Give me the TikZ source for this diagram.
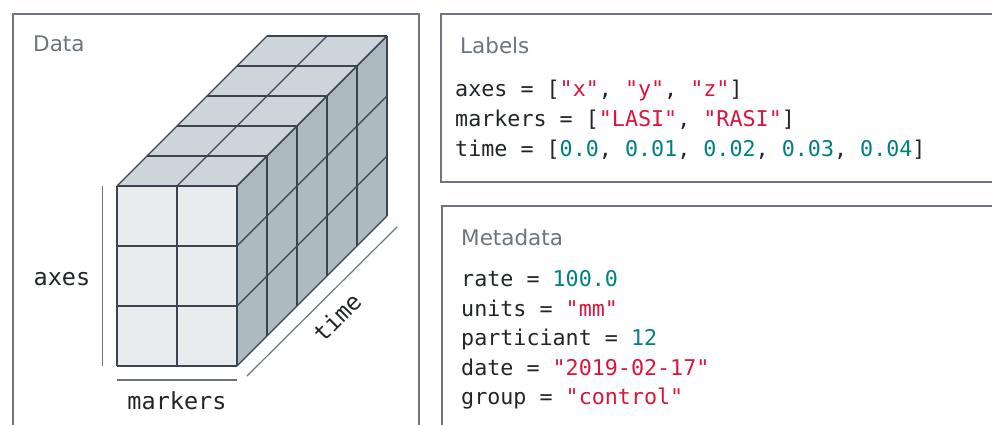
\documentclass[tikz,border=0pt]{standalone}
\usepackage{fontspec}
\setmainfont{DejaVu Sans}
\newfontfamily\codefont{DejaVu Sans Mono}

\definecolor{frame}{HTML}{6E7580}
\definecolor{titlegray}{HTML}{6C757D}
\definecolor{codeink}{HTML}{212529}
\definecolor{strred}{HTML}{DC143C}
\definecolor{numteal}{HTML}{00807F}
\definecolor{edgeink}{HTML}{3D4451}
\definecolor{facefront}{HTML}{E9ECEF}
\definecolor{facetop}{HTML}{CED5DA}
\definecolor{faceside}{HTML}{ADBAC0}

\newcommand\strv[1]{\textcolor{strred}{#1}}
\newcommand\numv[1]{\textcolor{numteal}{#1}}

\tikzset{
  panel/.style={draw=frame, line width=1.4pt},
  paneltitle/.style={anchor=base west, inner sep=0pt, text=titlegray,
    font=\fontsize{21.5}{26}\selectfont},
  codeline/.style={anchor=base west, inner sep=0pt, text=codeink,
    font=\codefont\fontsize{21.7}{26}\selectfont},
  dimlabel/.style={anchor=base, inner sep=0pt, text=codeink,
    font=\codefont\fontsize{23.5}{28}\selectfont},
  dimline/.style={draw=titlegray, line width=1.2pt},
  cubeedge/.style={draw=edgeink, line width=1.2pt, line join=round}
}

\begin{document}
\begin{tikzpicture}[x=1pt, y=-1pt]
\useasboundingbox (0,0) rectangle (992,425);
\clip (0,0) rectangle (992,425);

% panels (running past the lower and right edges)
\draw[panel] (13,440) -- (13,14) -- (419,14) -- (419,440);
\draw[panel] (1010,14) -- (441,14) -- (441,182) -- (1010,182);
\draw[panel] (1010,206) -- (442,206) -- (442,440);

% panel titles
\node[paneltitle] (tdata) at (33,51.5) {Data};
\node[paneltitle] (tlabels) at (460,54) {Labels};
\node[paneltitle] (tmeta) at (461,245) {Metadata};

% data cube: 2 markers x 3 axes x 5 time samples
% front face
\fill[facefront] (117,186) rectangle (237,366);
% top face
\fill[facetop] (117,186) -- (237,186) -- (387,36) -- (267,36) -- cycle;
% side face
\fill[faceside] (237,186) -- (387,36) -- (387,216) -- (237,366) -- cycle;
% front grid
\foreach \i in {0,1,2} \draw[cubeedge] (117+60*\i,186) -- (117+60*\i,366);
\foreach \j in {0,1,2,3} \draw[cubeedge] (117,186+60*\j) -- (237,186+60*\j);
% top grid
\foreach \k in {0,...,5}
  \draw[cubeedge] (117+30*\k,186-30*\k) -- (237+30*\k,186-30*\k);
\foreach \i in {0,1,2}
  \draw[cubeedge] (117+60*\i,186) -- (267+60*\i,36);
% side grid
\foreach \k in {0,...,5}
  \draw[cubeedge] (237+30*\k,186-30*\k) -- (237+30*\k,366-30*\k);
\foreach \j in {0,1,2,3}
  \draw[cubeedge] (237,186+60*\j) -- (387,36+60*\j);

% dimension guides
\coordinate (axtop) at (102.5,186);
\coordinate (axbot) at (102.5,366);
\coordinate (mkl) at (117,380);
\coordinate (mkr) at (237,380);
\coordinate (tma) at (247,376);
\coordinate (tmb) at (397,227);
\draw[dimline] (axtop) -- (axbot);
\draw[dimline] (mkl) -- (mkr);
\draw[dimline] (tma) -- (tmb);
\node[dimlabel] (laxes) at (62,285) {axes};
\node[dimlabel] (lmarkers) at (177,409) {markers};
\node[dimlabel, anchor=center, rotate=45] (ltime) at (337,317) {time};

% labels panel
\node[codeline] (lab1) at (455,97) {axes = [\strv{"x"}, \strv{"y"}, \strv{"z"}]};
\node[codeline] (lab2) at (455,126.5) {markers = [\strv{"LASI"}, \strv{"RASI"}]};
\node[codeline] (lab3) at (455,156) {time = [\numv{0.0}, \numv{0.01}, \numv{0.02}, \numv{0.03}, \numv{0.04}]};

% metadata panel
\node[codeline] (meta1) at (461,286.5) {rate = \numv{100.0}};
\node[codeline] (meta2) at (461,316) {units = \strv{"mm"}};
\node[codeline] (meta3) at (461,345.5) {particiant = \numv{12}};
\node[codeline] (meta4) at (461,375) {date = \strv{"2019-02-17"}};
\node[codeline] (meta5) at (461,404) {group = \strv{"control"}};
\end{tikzpicture}
\end{document}
